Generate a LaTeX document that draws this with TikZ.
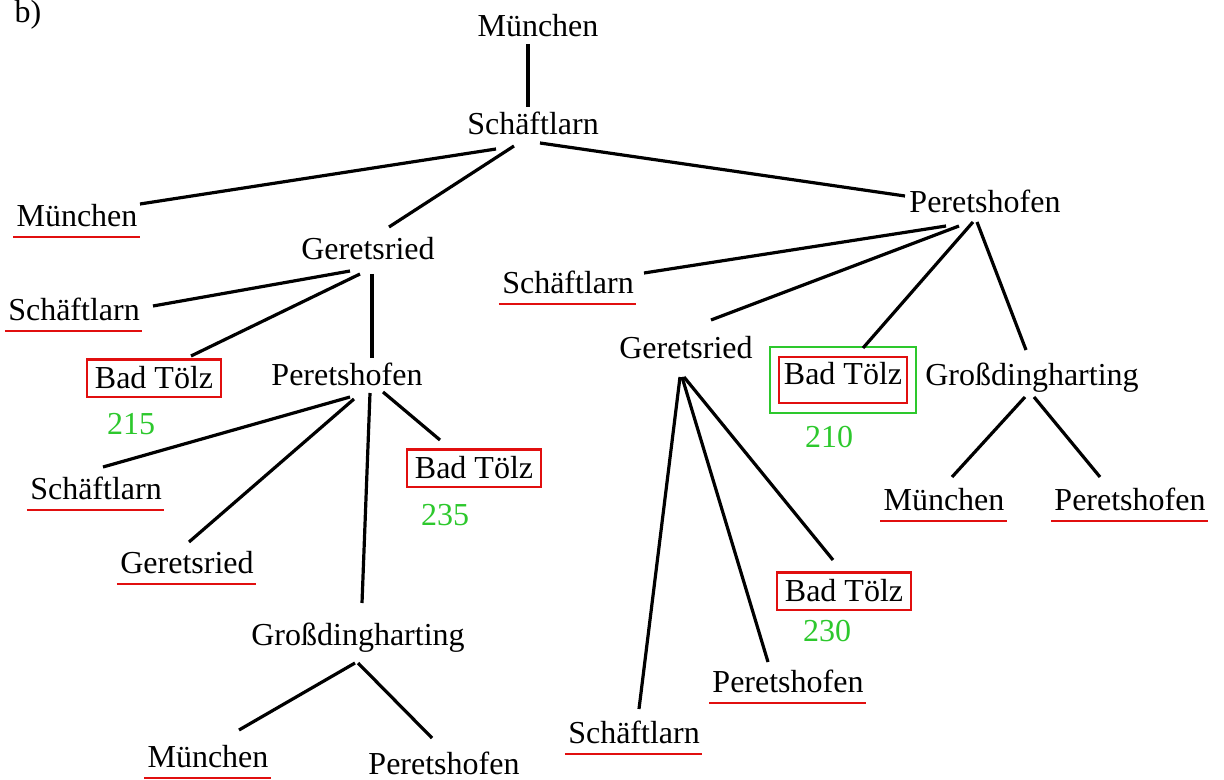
\documentclass[tikz,border=0pt]{standalone}
\usepackage{fontspec}
\setmainfont{Liberation Serif}
\usepackage{tikz}
\usetikzlibrary{positioning,fit}
\usepackage{xcolor}
\definecolor{goalred}{RGB}{225,15,15}
\definecolor{costgreen}{RGB}{45,200,45}

\begin{document}
\begin{tikzpicture}[
    x=0.5pt, y=-0.5pt,
    every node/.style={font=\fontsize{16}{19}\selectfont},
    city/.style={inner sep=0pt, text height=10.6pt, text depth=0pt},
    goal/.style={city, draw=goalred, line width=1.1pt, inner xsep=4pt, inner ysep=4pt},
    cost/.style={city, text=costgreen},
    edge/.style={line width=1.6pt},
    uline/.style={draw=goalred, line width=1.4pt}
]
\useasboundingbox (0,0) rectangle (1224,780);

% label
\node[city] (tag) at (28,12) {b)};

% level 0 and 1
\node[city] (root) at (538,26) {München};
\node[city] (sch) at (533,124) {Schäftlarn};

% level 2
\node[city] (mu1) at (77,216) {München};
\node[city] (ger1) at (368,249) {Geretsried};
\node[city] (per1) at (985,202) {Peretshofen};

% left subtree
\node[city] (sch2) at (74,310) {Schäftlarn};
\node[goal] (bt1) at (154,378) {Bad Tölz};
\node[city] (per2) at (347,375) {Peretshofen};
\node[city] (sch4) at (96,489) {Schäftlarn};
\node[city] (ger3) at (187,563) {Geretsried};
\node[goal] (bt3) at (474,468) {Bad Tölz};
\node[city] (gro2) at (358,635) {Großdingharting};
\node[city] (mu2) at (208,757) {München};
\node[city] (per3) at (444,764) {Peretshofen};

% right subtree
\node[city] (sch3) at (568,283) {Schäftlarn};
\node[city] (ger2) at (686,348) {Geretsried};
\node[goal, text depth=6.5pt, inner ysep=3pt, inner xsep=2.5pt] (bt2) at (843,380) {Bad Tölz};
\node[draw=costgreen, line width=1.1pt, inner xsep=3.75pt, inner ysep=4.5pt, fit=(bt2)] (best) {};
\node[city] (gro1) at (1032,375) {Großdingharting};
\node[city] (mu3) at (944,500) {München};
\node[city] (per4) at (1130,500) {Peretshofen};
\node[goal] (bt4) at (844,591) {Bad Tölz};
\node[city] (per5) at (788,682) {Peretshofen};
\node[city] (sch5) at (634,733) {Schäftlarn};

% costs
\node[cost, below=7.5pt of bt1, xshift=-11.5pt] (c215) {215};
\node[cost, below=8pt of bt3, xshift=-14.5pt] (c235) {235};
\node[cost, below=11pt of bt2, xshift=-7pt] (c210) {210};
\node[cost, below=4.5pt of bt4, xshift=-8.5pt] (c230) {230};

% edges
\draw[edge] ([shift={(-10,18)}]root.center) -- ([shift={(-5,-17)}]sch.center);
\draw[edge] ([shift={(-37,25)}]sch.center) -- ([shift={(63,-12)}]mu1.center);
\draw[edge] ([shift={(-19,22)}]sch.center) -- ([shift={(21,-22)}]ger1.center);
\draw[edge] ([shift={(7,19)}]sch.center) -- ([shift={(-80,-6)}]per1.center);

\draw[edge] ([shift={(-18,22)}]ger1.center) -- ([shift={(79,-4)}]sch2.center);
\draw[edge] ([shift={(-8,25)}]ger1.center) -- ([shift={(37,-22)}]bt1.center);
\draw[edge] ([shift={(4,25)}]ger1.center) -- ([shift={(25,-17)}]per2.center);

\draw[edge] ([shift={(3,22)}]per2.center) -- ([shift={(7,-22)}]sch4.center);
\draw[edge] ([shift={(7,24)}]per2.center) -- ([shift={(2,-21)}]ger3.center);
\draw[edge] ([shift={(23,18)}]per2.center) -- ([shift={(4,-32)}]gro2.center);
\draw[edge] ([shift={(36,17)}]per2.center) -- ([shift={(-34,-28)}]bt3.center);

\draw[edge] ([shift={(-3,28)}]gro2.center) -- ([shift={(31,-27)}]mu2.center);
\draw[edge] ([shift={(0,28)}]gro2.center) -- ([shift={(-12,-26)}]per3.center);

\draw[edge] ([shift={(-39,24)}]per1.center) -- ([shift={(76,-10)}]sch3.center);
\draw[edge] ([shift={(-26,24)}]per1.center) -- ([shift={(25,-28)}]ger2.center);
\draw[edge] ([shift={(-12,20)}]per1.center) -- ([shift={(20,-32)}]bt2.center);
\draw[edge] ([shift={(-8,20)}]per1.center) -- ([shift={(-6,-25)}]gro1.center);

\draw[edge] ([shift={(-6,29)}]ger2.center) -- ([shift={(5,-24)}]sch5.center);
\draw[edge] ([shift={(-4,29)}]ger2.center) -- ([shift={(-20,-20)}]per5.center);
\draw[edge] ([shift={(-2,29)}]ger2.center) -- ([shift={(-11,-31)}]bt4.center);

\draw[edge] ([shift={(-7,22)}]gro1.center) -- ([shift={(8,-23)}]mu3.center);
\draw[edge] ([shift={(2,22)}]gro1.center) -- ([shift={(-30,-23)}]per4.center);

% underlines for repeated cities
\foreach \n in {mu1,sch2,sch3,sch4,ger3,mu2,mu3,per4,per5,sch5}
    \draw[uline] ([shift={(-3,10)}]\n.south west) -- ([shift={(2,10)}]\n.south east);

\end{tikzpicture}
\end{document}
